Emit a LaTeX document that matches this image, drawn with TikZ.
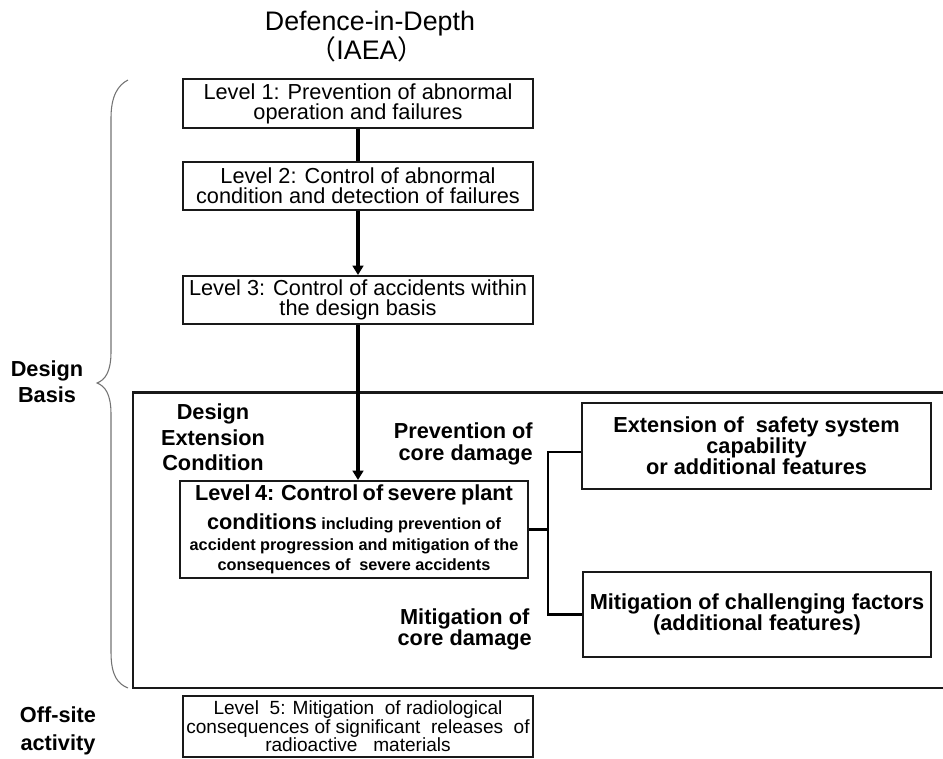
\documentclass[tikz,border=0pt]{standalone}
\usepackage{fontspec}
\setmainfont{Liberation Sans}
\newfontfamily\cjkfont{Noto Sans CJK JP}
\usetikzlibrary{arrows.meta}
\begin{document}
\begin{tikzpicture}[x=0.75pt,y=-0.75pt,
  box/.style={draw=black!90, line width=1.5pt, align=center, inner sep=0pt},
  reg/.style={font=\fontsize{16.3}{15}\selectfont},
  big/.style={font=\bfseries\fontsize{16.3}{15.75}\selectfont},
  lbl/.style={font=\bfseries\fontsize{16.3}{19.5}\selectfont, align=center, inner sep=0pt},
  conn/.style={line width=2.6pt},
  arr/.style={conn, -{Triangle[length=7pt,width=8pt]}},
  link/.style={line width=1.6pt},
  brace/.style={draw=black!55, line width=0.8pt}]
\useasboundingbox (0,0) rectangle (943,758);

% title
\node[font=\fontsize{20.1}{24}\selectfont, inner sep=0pt] (t1) at (370,24) {Defence-in-Depth};
\node[font=\fontsize{20.1}{24}\selectfont, inner sep=0pt] (t2) at (367,49) {{\cjkfont （}IAEA{\cjkfont ）}};

% levels 1-3
\node[box, reg, minimum width=262.5pt, minimum height=36.75pt] (L1) at (358,103.5)
  {Level 1: Prevention of abnormal\\operation and failures};
\node[box, reg, minimum width=262.5pt, minimum height=36pt] (L2) at (358,186)
  {Level 2: Control of abnormal\\condition and detection of failures};
\node[box, reg, minimum width=262.5pt, minimum height=36pt] (L3) at (358,300)
  {Level 3: Control of accidents within\\the design basis};

% design extension frame (open to the right)
\draw[line width=1.6pt, draw=black!90] (960,392.5) -- (133,392.5) -- (133,688) -- (960,688);

% level 4
\node[box, minimum width=261pt, minimum height=72.75pt, text width=258pt, font=\bfseries] (L4) at (354,529.5)
  {{\fontsize{16.3}{21}\selectfont Level 4: Control of severe plant\par}
   {\fontsize{16.3}{21.5}\selectfont conditions {\fontsize{12.2}{21.5}\selectfont including prevention of}\par}
   {\fontsize{12.2}{15.4}\selectfont accident progression and mitigation of the\\consequences of\ \ severe accidents\par}};

% right boxes
\node[box, big, minimum width=261.75pt, minimum height=64.5pt] (Ext) at (756.5,446)
  {Extension of\ \ safety system\\capability\\or additional features};
\node[box, big, minimum width=261pt, minimum height=63.75pt] (Mit) at (757,614.5)
  {Mitigation of challenging factors\\(additional features)};

% level 5
\node[box, minimum width=262.5pt, minimum height=45.75pt, font=\fontsize{14.3}{13.9}\selectfont] (L5) at (358,726.5)
  {Level\ \ 5: Mitigation\ \ of radiological\\consequences of significant\ \ releases\ \ of\\radioactive\ \ \ materials};

% labels
\node[lbl] (db) at (47,382) {Design\\Basis};
\node[lbl, font=\bfseries\fontsize{16.3}{19}\selectfont] (dec) at (213,437.5) {Design\\Extension\\Condition};
\node[lbl, align=right, anchor=east, font=\bfseries\fontsize{16.3}{16}\selectfont] (pcd) at (533,444) {Prevention of\\core damage};
\node[lbl, anchor=east, font=\bfseries\fontsize{16.3}{16}\selectfont] (mcd) at (532,629.5) {Mitigation of\\core damage};
\node[lbl, font=\bfseries\fontsize{16.3}{21}\selectfont] (off) at (58,731) {Off-site\\activity};

% connectors
\draw[conn] (L1.south) -- (L2.north);
\draw[arr] (L2.south) -- (L3.north);
\draw[arr] (L3.south) -- (L3.south |- L4.north);
\coordinate (j) at (548,529.5);
\draw[link] (L4.east) -- (j);
\draw[link] ([yshift=-4.5pt]Ext.west) -| (j) |- (Mit.west);

% brace
\draw[brace] (128,80) .. controls (118,85) and (111,96) .. (111,118) -- (111,352)
  .. controls (111,372) and (105,380) .. (97,383)
  .. controls (105,386) and (111,394) .. (111,414) -- (111,652)
  .. controls (111,676) and (118,684) .. (128,688);
\end{tikzpicture}
\end{document}
